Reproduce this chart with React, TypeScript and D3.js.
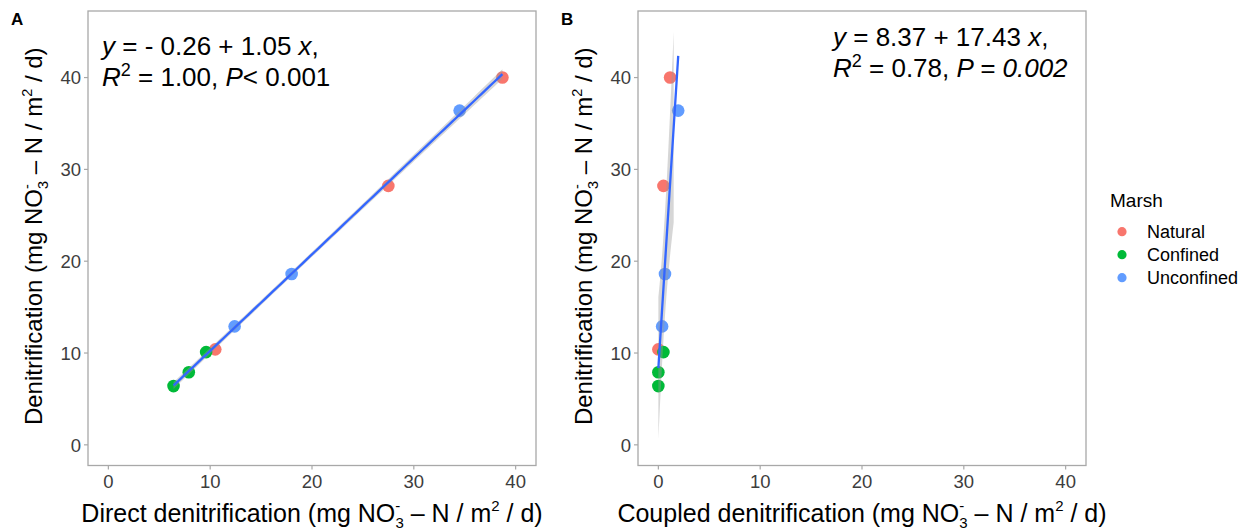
import React from "react";
import * as d3 from "d3";

// ---- data ----
const marshLevels = ["Natural", "Confined", "Unconfined"];
const marshColors = ["#F8766D", "#00BA38", "#619CFF"];

const marsh = ["Natural", "Natural", "Natural", "Confined", "Confined", "Confined", "Unconfined", "Unconfined", "Unconfined"];
const direct = [38.7, 27.5, 10.5, 9.6, 7.9, 6.4, 34.5, 18.0, 12.4];
const coupled = [1.15, 0.5, 0.0, 0.5, 0.0, 0.0, 1.95, 0.65, 0.37];
const total = [40.0, 28.2, 10.4, 10.1, 7.9, 6.4, 36.4, 18.6, 12.9];

const xTicks = [0, 10, 20, 30, 40];
const yTicks = [0, 10, 20, 30, 40];
const xLimits = [0, 40];
const yLimits = [0, 45];

const fitA = { intercept: -0.26, slope: 1.05 };
const fitB = { intercept: 8.37, slope: 17.43 };

const FONT = "'Liberation Sans', Arial, Helvetica, sans-serif";
const PANEL_TOP = 11;
const PANEL_BOTTOM = 465.5;
const PANEL_W = 448;
const T_975_DF7 = 2.3646;

function expand(lim: number[]) {
  const d = (lim[1] - lim[0]) * 0.05;
  return [lim[0] - d, lim[1] + d];
}

function band(xs: number[], ys: number[], fit: { intercept: number; slope: number }) {
  const n = xs.length;
  const mx = d3.mean(xs) as number;
  const sxx = d3.sum(xs, (x) => (x - mx) ** 2);
  const ss = d3.sum(xs, (x, i) => (ys[i] - (fit.intercept + fit.slope * x)) ** 2);
  const s = Math.sqrt(ss / (n - 2));
  const [lo, hi] = d3.extent(xs) as [number, number];
  const all = d3.range(0, 80).map((k) => {
    const x = lo + ((hi - lo) * k) / 79;
    const yhat = fit.intercept + fit.slope * x;
    const se = s * Math.sqrt(1 / n + (x - mx) ** 2 / sxx);
    return { x, y: yhat, lo: yhat - T_975_DF7 * se, hi: yhat + T_975_DF7 * se };
  });
  // values outside the y limits become missing, as in the reference
  const ribbon: typeof all = [];
  for (const p of all) {
    if (p.lo < yLimits[0] || p.hi > yLimits[1]) {
      if (ribbon.length) break;
      continue;
    }
    ribbon.push(p);
  }
  return { all, ribbon };
}

function UnitLabel({ big, small }: { big: number; small: number }) {
  return (
    <>
      <tspan> (mg NO</tspan>
      <tspan fontSize={small} dy={-big * 0.42}>-</tspan>
      <tspan fontSize={small} dx={-small * 0.33} dy={big * 0.42 + big * 0.24}>3</tspan>
      <tspan dy={-big * 0.24}> – N / m</tspan>
      <tspan fontSize={small} dy={-big * 0.42}>2</tspan>
      <tspan dy={big * 0.42}> / d)</tspan>
    </>
  );
}

type PanelProps = {
  left: number;
  xs: number[];
  fit: { intercept: number; slope: number };
  tag: string;
  xTitle: string;
  eqX: number;
  eqY: number;
  italicP: boolean;
  line1: string;
  r2: string;
  pText: string;
};

function Panel({ left, xs, fit, tag, xTitle, eqX, eqY, italicP, line1, r2, pText }: PanelProps) {
  const x = d3.scaleLinear().domain(expand(xLimits)).range([left, left + PANEL_W]);
  const y = d3.scaleLinear().domain(expand(yLimits)).range([PANEL_BOTTOM, PANEL_TOP]);
  const b = band(xs, total, fit);
  const area = d3
    .area<{ x: number; lo: number; hi: number }>()
    .x((d) => x(d.x))
    .y0((d) => y(d.lo))
    .y1((d) => y(d.hi));
  const line = d3
    .line<{ x: number; y: number }>()
    .x((d) => x(d.x))
    .y((d) => y(d.y));
  const grey = "#a8a8a8";
  const tickColor = "#3d3d3d";
  return (
    <g>
      <text x={left - 77} y={25} fontFamily={FONT} fontWeight="bold" fontSize={17} fill="#000">
        {tag}
      </text>
      {/* points */}
      {xs.map((xv, i) => (
        <circle key={i} cx={x(xv)} cy={y(total[i])} r={6.3} fill={marshColors[marshLevels.indexOf(marsh[i])]} />
      ))}
      {/* smooth */}
      <path d={area(b.ribbon) || ""} fill="#999999" fillOpacity={0.4} />
      <path d={line(b.all) || ""} fill="none" stroke="#3366FF" strokeWidth={2.3} />
      {/* border */}
      <rect x={left} y={PANEL_TOP} width={PANEL_W} height={PANEL_BOTTOM - PANEL_TOP} fill="none" stroke={grey} strokeWidth={1.3} />
      {/* y ticks */}
      {yTicks.map((t) => (
        <g key={"y" + t}>
          <line x1={left - 4} x2={left} y1={y(t)} y2={y(t)} stroke={grey} strokeWidth={1.2} />
          <text x={left - 7} y={y(t)} dy="0.36em" textAnchor="end" fontFamily={FONT} fontSize={18.5} fill={tickColor}>
            {t}
          </text>
        </g>
      ))}
      {/* x ticks */}
      {xTicks.map((t) => (
        <g key={"x" + t}>
          <line x1={x(t)} x2={x(t)} y1={PANEL_BOTTOM} y2={PANEL_BOTTOM + 4} stroke={grey} strokeWidth={1.2} />
          <text x={x(t)} y={488} textAnchor="middle" fontFamily={FONT} fontSize={18.5} fill={tickColor}>
            {t}
          </text>
        </g>
      ))}
      {/* x title */}
      <text x={left + PANEL_W / 2} y={521.5} textAnchor="middle" fontFamily={FONT} fontSize={25} fill="#000">
        <tspan>{xTitle}</tspan>
        <UnitLabel big={25} small={15} />
      </text>
      {/* y title */}
      <text
        transform={`translate(${left - 46},${(PANEL_TOP + PANEL_BOTTOM) / 2 - 2}) rotate(-90)`}
        textAnchor="middle"
        fontFamily={FONT}
        fontSize={24}
        fill="#000"
      >
        <tspan>Denitrification</tspan>
        <UnitLabel big={24} small={14.5} />
      </text>
      {/* equation */}
      <text x={eqX} y={eqY} fontFamily={FONT} fontSize={26} fill="#000">
        <tspan fontStyle="italic">y</tspan>
        <tspan>{line1}</tspan>
        <tspan fontStyle="italic">x</tspan>
        <tspan>,</tspan>
      </text>
      <text x={eqX} y={eqY + 31} fontFamily={FONT} fontSize={26} fill="#000">
        <tspan fontStyle="italic">R</tspan>
        <tspan fontSize={18} dy={-10}>2</tspan>
        <tspan dy={10}>{r2}</tspan>
        <tspan fontStyle="italic">P</tspan>
        {italicP ? <tspan fontStyle="italic">{pText}</tspan> : <tspan>{pText}</tspan>}
      </text>
    </g>
  );
}

export default function App() {
  return (
    <svg width={1260} height={531} style={{ position: "absolute", left: 0, top: 0, background: "#fff" }}>
      <rect width={1260} height={531} fill="#fff" />
      <Panel
        left={88}
        xs={direct}
        fit={fitA}
        tag="A"
        xTitle="Direct denitrification"
        eqX={102}
        eqY={55}
        italicP={false}
        line1={" = - 0.26 + 1.05 "}
        r2={" = 1.00, "}
        pText={"< 0.001"}
      />
      <Panel
        left={638}
        xs={coupled}
        fit={fitB}
        tag="B"
        xTitle="Coupled denitrification"
        eqX={833}
        eqY={46}
        italicP={true}
        line1={" = 8.37 + 17.43 "}
        r2={" = 0.78, "}
        pText={" = 0.002"}
      />
      {/* legend */}
      <text x={1110} y={207} fontFamily={FONT} fontSize={19} fill="#000">
        Marsh
      </text>
      {marshLevels.map((m, i) => (
        <g key={m}>
          <circle cx={1122} cy={231.7 + i * 23} r={4.6} fill={marshColors[i]} />
          <text x={1147} y={231.7 + i * 23} dy="0.36em" fontFamily={FONT} fontSize={18} fill="#000">
            {m}
          </text>
        </g>
      ))}
    </svg>
  );
}
